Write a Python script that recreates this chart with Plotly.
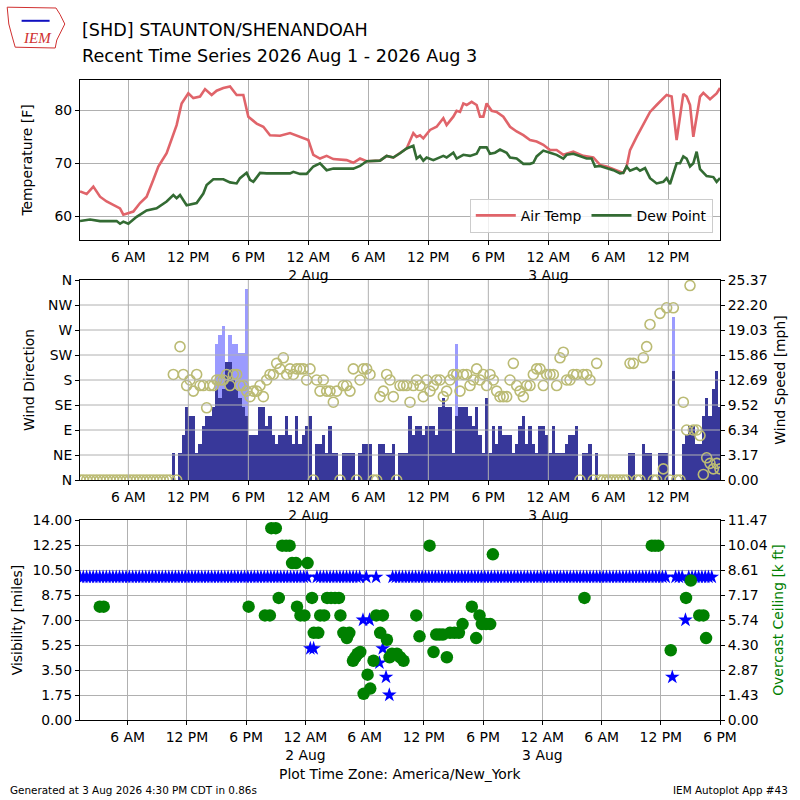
import pandas as pd
import plotly.graph_objects as go

# ---------------- DATA (local time America/New_York) ----------------
BASE = pd.Timestamp("2026-08-01 00:00")  # hours below are counted from here

temp_hours = [1.17, 1.83, 2.5, 3.17, 3.83, 4.5, 5.17, 5.5, 6.0, 6.5, 7.17, 7.83, 8.5, 9.0,
              9.83, 10.5, 10.83, 11.33, 12.0, 12.5, 13.17, 13.67, 14.33, 14.83, 15.5, 16.17,
              16.83, 17.5, 18.0, 18.83, 19.5, 20.17, 21.17, 22.17, 23.17, 24.0, 24.5, 25.17,
              25.83, 26.5, 27.83, 28.5, 29.17, 29.83, 31.17, 31.83, 32.5,
              33.17, 33.83, 34.5, 34.83, 35.17, 35.5, 36.17, 36.83, 37.5, 37.83, 38.5, 38.83,
              39.17, 39.5, 39.83, 40.33, 40.83, 41.17, 41.5, 41.83, 42.33, 42.83, 43.5, 44.17,
              44.83, 45.5, 46.17, 46.83, 47.5, 48.17, 48.83, 49.5, 50.5, 51.5, 52.5, 53.17,
              53.83, 54.83, 55.5, 55.83, 56.17, 56.83, 57.5, 58.17, 58.83, 59.83, 60.33, 60.83,
              61.5, 61.83, 62.17, 62.5, 63.17, 63.5, 64.17, 64.83, 65.17]
temp_f = [64.7, 64.2, 65.6, 63.7, 62.8, 62.1, 61.5, 60.3, 60.6, 60.9, 62.5, 63.7, 66.9, 69.4,
          71.9, 75.7, 77.2, 81.3, 83.2, 82.3, 82.6, 84.0, 82.9, 83.7, 84.2, 84.5,
          82.9, 82.9, 78.8, 77.5, 76.9, 75.3, 75.2, 75.7, 75.0, 74.4, 71.6, 70.9,
          71.4, 70.8, 70.6, 70.1, 70.9, 70.4, 70.5, 71.4, 71.1,
          71.9, 72.8, 75.7, 75.0, 75.3, 74.7, 76.3, 76.9, 78.5, 77.2, 78.8, 79.9,
          79.7, 81.3, 81.0, 81.6, 81.0, 78.8, 78.8, 81.3, 79.9, 79.7, 78.8, 76.9,
          76.0, 75.3, 74.4, 74.1, 73.5, 72.5, 72.5, 71.6, 72.2, 71.4, 71.1, 69.7,
          69.4, 68.7, 68.2, 69.4, 72.5, 75.0, 77.5, 79.7, 81.0, 82.9, 82.6, 74.4,
          83.1, 82.6, 81.0, 75.0, 82.6, 83.3, 82.1, 83.2, 84.2]

dew_hours = [1.17, 2.17, 3.17, 4.83, 5.17, 5.5, 6.0, 6.83, 7.83, 8.83, 9.83, 10.5, 10.83,
             11.17, 11.83, 12.83, 13.5, 13.83, 14.5, 15.5, 16.17, 16.83, 17.17, 17.83, 18.17,
             18.5, 19.17, 19.83, 22.17, 22.5, 23.17, 23.83, 24.5, 25.17, 25.83, 26.5, 28.5,
             29.17, 29.83, 31.17, 31.83, 32.5,
             33.17, 33.83, 34.5, 34.83, 35.17, 35.5, 35.83, 36.5, 37.5, 37.83, 38.5, 38.83,
             39.5, 40.17, 40.83, 41.17, 41.83, 42.17, 42.67, 43.17, 43.83, 44.17, 44.83, 45.5,
             46.17, 46.5, 46.83, 47.5, 48.17, 48.83, 49.5, 49.83, 50.5, 51.17, 51.83, 52.33,
             52.67, 53.17, 53.83, 54.5, 55.17, 55.5, 55.83, 56.17, 56.83, 57.17, 57.67, 58.17,
             58.83, 59.5, 59.83, 60.17, 60.83, 61.17, 61.5, 61.83, 62.17, 62.5, 62.83, 63.17,
             63.83, 64.5, 64.83, 65.17]
dew_f = [59.1, 59.4, 59.1, 59.1, 58.6, 59.0, 58.6, 59.9, 61.1, 61.5, 62.8, 64.0, 63.4,
         64.0, 62.1, 62.5, 64.3, 65.9, 67.0, 67.0, 66.4, 66.2, 67.2, 68.2, 66.9,
         66.5, 68.2, 68.1, 68.1, 68.4, 68.0, 68.0, 69.4, 70.0, 68.7, 69.0, 69.0,
         69.5, 70.4, 70.5, 71.4, 71.1,
         71.9, 72.8, 73.3, 70.9, 71.4, 70.5, 71.1, 70.6, 71.4, 71.1, 72.0, 70.9,
         71.6, 71.4, 71.8, 73.0, 73.0, 71.8, 72.0, 72.6, 72.0, 71.1, 70.9, 69.9,
         69.9, 70.1, 71.3, 72.4, 72.0, 71.6, 70.9, 71.6, 71.8, 71.4, 70.9, 70.9,
         69.4, 69.5, 69.1, 68.7, 68.1, 68.2, 69.4, 68.6, 69.1, 68.6, 69.1, 67.2,
         66.2, 66.5, 67.2, 66.1, 70.0, 70.0, 71.3, 70.9, 69.4, 70.0, 72.2, 68.9,
         67.6, 67.4, 66.5, 67.2]

# 20-minute observations starting 2026-08-01 01:10
OBS_START = "2026-08-01 01:10"
wind_mph = [0, 0, 0, 0, 0, 0, 0, 0, 0, 0, 0, 0, 0, 0, 0, 0, 0, 0, 0, 0, 0, 0, 0, 0, 0, 0, 0, 0,
            3.45, 0, 3.45, 5.75, 9.21, 8.06, 8.06, 3.45, 4.60, 6.90, 8.06, 8.06, 9.21,
            11.51, 10.36, 11.51, 14.96, 14.96, 12.66, 11.51, 10.36, 9.21, 8.06,
            5.75, 5.75, 5.75, 9.21, 9.21, 6.90, 8.06, 5.75, 4.60, 5.75,
            5.75, 8.06, 5.75, 4.60, 8.06, 4.60, 5.75, 6.90, 8.06, 0,
            4.60, 4.60, 5.75, 3.45, 6.90, 3.45, 3.45, 0, 3.45, 3.45,
            3.45, 3.45, 0, 3.45, 4.60, 4.60, 4.60, 0, 0, 4.60,
            4.60, 3.45, 3.45, 4.60, 0, 3.45, 3.45, 3.45, 8.06, 5.75,
            6.90, 6.90, 5.75, 6.90, 6.90, 6.90, 5.75, 9.21, 10.36, 9.21,
            9.21, 3.45, 8.06, 9.21, 9.21, 9.21, 8.06, 6.90, 9.21, 5.75,
            3.45, 10.36, 3.45, 6.90, 4.60, 6.90, 5.75, 5.75, 5.75, 3.45,
            4.60, 6.90, 8.06, 4.60, 6.90, 4.60, 3.45, 6.90, 6.90, 5.75,
            3.45, 6.90, 3.45, 3.45, 3.45, 4.60, 5.75, 5.75, 6.90, 0,
            3.45, 3.45, 4.60, 0, 3.45, 0, 0, 0, 0, 0,
            0, 0, 0, 0, 3.45, 3.45, 0, 0, 4.60, 3.45,
            3.45, 0, 0, 3.45, 3.45, 3.45, 0, 13.81, 0, 0,
            4.60, 5.75, 6.90, 6.90, 4.60, 4.60, 8.06, 10.36, 8.06, 11.51, 13.81, 9.21]
wind_dir = [0, 0, 0, 0, 0, 0, 0, 0, 0, 0, 0, 0, 0, 0, 0, 0, 0, 0, 0, 0, 0, 0, 0, 0, 0, 0, 0, 0,
            190, 0, 240, 190, 170, 180, 160, 190, 170, 170, 130, 170, 170,
            180, 180, 180, 190, 170, 190, 190, 170, 170, 160,
            150, 160, 160, 170, 150, 180, 190, 190, 210, 200,
            220, 190, 200, 190, 200, 200, 200, 180, 200, 0,
            180, 160, 180, 160, 160, 140, 160, 0, 170, 170,
            160, 200, 0, 180, 200, 200, 190, 0, 0, 150,
            160, 190, 180, 150, 0, 170, 170, 170, 140, 170,
            180, 170, 150, 180, 160, 170, 180, 180, 150, 160,
            180, 190, 190, 160, 190, 190, 170, 180, 200, 180,
            190, 170, 190, 180, 160, 150, 150, 150, 180, 210,
            170, 160, 150, 170, 170, 190, 200, 200, 170, 190,
            190, 190, 170, 220, 230, 180, 180, 190, 190, 0,
            190, 190, 180, 0, 210, 0, 0, 0, 0, 0,
            0, 0, 0, 0, 210, 210, 0, 0, 220, 240,
            280, 0, 0, 300, 20, 310, 0, 310, 0, 0,
            140, 90, 350, 90, 90, 80, 10, 40, 30, 20, 30, 20]
vis_miles = [10, 10, 10, 10, 10, 10, 10, 10, 10, 10,
             10, 10, 10, 10, 10, 10, 10, 10, 10, 10,
             10, 10, 10, 10, 10, 10, 10, 10, 10, 10,
             10, 10, 10, 10, 10, 10, 10, 10, 10, 10,
             10, 10, 10, 10, 10, 10, 10, 10, 10, 10,
             10, 10, 10, 10, 10, 10, 10, 10, 10, 10,
             10, 10, 10, 10, 10, 10, 10, 10, 10, 10,
             5, 5, 10, 10, 10, 10, 10, 10, 10, 10,
             10, 10, 10, 10, 10, 10, 7, 10, 7, None,
             10, 4, 5, 3, 1.75, 10, 10, 10, 10, 10,
             10, 10, 10, 10, 10, 10, 10, 10, 10, 10,
             10, 10, 10, 10, 10, 10, 10, 10, 10, 10,
             10, 10, 10, 10, 10, 10, 10, 10, 10, 10,
             10, 10, 10, 10, 10, 10, 10, 10, 10, 10,
             10, 10, 10, 10, 10, 10, 10, 10, 10, 10,
             10, 10, 10, 10, 10, 10, 10, 10, 10, 10,
             10, 10, 10, 10, 10, 10, 10, 10, 10, 10,
             10, 10, 10, 10, 10, 10, 10, 10, 10, None,
             3, 10, 10, 10, 7, 10, 10, 10, 10, 10,
             10, 10, 10]

gust_times = ["2026-08-01 14:50", "2026-08-01 15:10", "2026-08-01 15:30", "2026-08-01 16:10",
              "2026-08-01 16:30", "2026-08-01 16:50", "2026-08-01 17:10", "2026-08-01 17:30",
              "2026-08-01 17:50", "2026-08-02 14:50", "2026-08-03 12:30"]
gust_mph = [17.26, 18.41, 19.56, 18.41, 17.26, 17.26, 16.11, 16.11, 24.17, 17.26, 20.71]

ceil_hours = [3.17, 3.57, 18.25, 19.9, 20.4, 20.55, 21.0, 21.3, 21.65, 22.05, 22.4, 22.65,
              23.05, 23.15, 23.5, 23.9, 24.22, 24.67, 24.85, 25.3, 25.5, 25.9, 26.2, 26.6,
              27.0, 27.4, 27.55, 27.85, 28.2, 28.45, 28.82, 29.05, 29.29, 29.56, 29.9, 30.3,
              30.57, 30.9, 31.18, 31.58, 31.85, 32.26, 32.53, 32.77, 33.27, 33.6, 33.94,
              35.23, 35.56, 36.58, 36.98, 37.25, 37.59, 37.93, 38.33, 38.65, 39.1, 39.55,
              39.92, 40.86, 41.3, 41.64, 41.87, 42.3, 42.72, 42.99, 52.27, 59.09, 59.42,
              59.76, 61.01, 62.56, 63.04, 63.9, 64.32, 64.59]
ceil_kft = [6.5, 6.5, 6.5, 6.0, 6.0, 11.0, 11.0, 7.0, 10.0, 10.0, 10.0, 9.0,
            9.0, 6.5, 6.0, 6.0, 9.0, 7.0, 5.0, 5.0, 6.0, 6.0, 7.0, 7.0,
            7.0, 7.0, 6.0, 5.0, 4.7, 5.0, 3.4, 3.6, 3.8, 3.9, 1.5, 2.6,
            1.8, 3.4, 6.0, 5.0, 6.0, 4.6, 3.6, 3.8, 3.8, 3.6, 3.4,
            6.0, 4.8, 10.0, 3.9, 4.9, 4.9, 4.9, 3.6, 5.0, 5.0, 5.0,
            5.5, 6.5, 4.7, 6.0, 5.5, 5.5, 5.5, 9.5, 7.0, 10.0, 10.0,
            10.0, 4.0, 7.0, 8.0, 6.0, 6.0, 4.7]

# axis ticks / labels
xtick_vals = ["2026-08-01 06:00", "2026-08-01 12:00", "2026-08-01 18:00", "2026-08-02 00:00",
              "2026-08-02 06:00", "2026-08-02 12:00", "2026-08-02 18:00", "2026-08-03 00:00",
              "2026-08-03 06:00", "2026-08-03 12:00", "2026-08-03 18:00"]
xtick_text = ["6 AM", "12 PM", "6 PM", "12 AM<br>2 Aug", "6 AM", "12 PM", "6 PM",
              "12 AM<br>3 Aug", "6 AM", "12 PM", "6 PM"]
dir_ticks = [0, 45, 90, 135, 180, 225, 270, 315, 360]
dir_labels = ["N", "NE", "E", "SE", "S", "SW", "W", "NW", "N"]
speed_max = 25.37
speed_labels = ["0.00", "3.17", "6.34", "9.52", "12.69", "15.86", "19.03", "22.20", "25.37"]
vis_ticks = [0, 1.75, 3.5, 5.25, 7.0, 8.75, 10.5, 12.25, 14.0]
vis_labels = ["0.00", "1.75", "3.50", "5.25", "7.00", "8.75", "10.50", "12.25", "14.00"]
ceil_max = 11.47
ceil_labels = ["0.00", "1.43", "2.87", "4.30", "5.74", "7.17", "8.61", "10.04", "11.47"]

# ---------------- BUILD ----------------
assert len(wind_mph) == len(wind_dir) == len(vis_miles) == 193
obs_t = pd.date_range(OBS_START, periods=len(wind_mph), freq="20min")
temp_t = BASE + pd.to_timedelta(temp_hours, unit="h")
dew_t = BASE + pd.to_timedelta(dew_hours, unit="h")
ceil_t = BASE + pd.to_timedelta(ceil_hours, unit="h")
speed_ticks = [speed_max * i / 8 for i in range(9)]
ceil_ticks = [ceil_max * i / 8 for i in range(9)]

FONT = "DejaVu Sans"
FS = 13.9
GRID = "#b0b0b0"
BAR_W = 20 * 60 * 1000

fig = go.Figure()
fig.add_trace(go.Scatter(x=temp_t, y=temp_f, mode="lines", name="Air Temp",
                         line=dict(color="#E0646A", width=2.6), xaxis="x", yaxis="y"))
fig.add_trace(go.Scatter(x=dew_t, y=dew_f, mode="lines", name="Dew Point",
                         line=dict(color="#336B33", width=2.6), xaxis="x", yaxis="y"))

fig.add_trace(go.Bar(x=pd.to_datetime(gust_times), y=gust_mph, width=BAR_W, showlegend=False,
                     marker=dict(color="#9B9BFF", line=dict(width=0)), xaxis="x2", yaxis="y2"))
fig.add_trace(go.Bar(x=obs_t, y=wind_mph, width=BAR_W, showlegend=False,
                     marker=dict(color="#38389A", line=dict(width=0)), xaxis="x2", yaxis="y2"))
fig.add_trace(go.Scatter(x=obs_t, y=wind_dir, mode="markers", showlegend=False,
                         marker=dict(symbol="circle-open", size=10, color="#BBBB74",
                                     line=dict(width=1.6, color="#BBBB74")),
                         xaxis="x2", yaxis="y3"))

fig.add_trace(go.Scatter(x=obs_t, y=vis_miles, mode="markers", showlegend=False,
                         marker=dict(symbol="star", size=11, color="#0000FF", line=dict(width=0)),
                         xaxis="x3", yaxis="y4"))
fig.add_trace(go.Scatter(x=ceil_t, y=ceil_kft, mode="markers", showlegend=False,
                         marker=dict(symbol="circle", size=12.5, color="#008000", line=dict(width=0)),
                         xaxis="x3", yaxis="y5"))

tickfont = dict(family=FONT, size=FS, color="black")
common_x = dict(type="date", tickmode="array", tickvals=xtick_vals, ticktext=xtick_text,
                tickfont=tickfont, ticks="outside", ticklen=4, tickwidth=1, tickcolor="black",
                showline=True, linecolor="black", linewidth=1, mirror=True, zeroline=False,
                automargin=False, tickangle=0)
common_y = dict(tickfont=tickfont, ticks="outside", ticklen=4, tickwidth=1, tickcolor="black",
                zeroline=False, automargin=False)
title_font = dict(family=FONT, size=FS, color="black")

x_top = ["2026-08-01 01:10", "2026-08-03 17:10"]
x_bot = ["2026-08-01 01:10", "2026-08-03 18:00"]

fig.update_layout(
    width=800, height=800, margin=dict(l=0, r=0, t=0, b=0), autosize=False,
    paper_bgcolor="white", plot_bgcolor="white", barmode="overlay", bargap=0,
    font=dict(family=FONT, size=FS, color="black"),
    xaxis=dict(common_x, domain=[0.1, 0.9], anchor="y", range=x_top,
               showgrid=True, gridcolor=GRID, gridwidth=1),
    yaxis=dict(common_y, domain=[0.7, 0.9], anchor="x", range=[55.53, 85.72],
               tickvals=[60, 70, 80], showgrid=True, gridcolor=GRID, gridwidth=1,
               showline=True, linecolor="black", linewidth=1, mirror=True,
               title=dict(text="Temperature [F]", font=title_font, standoff=18)),
    xaxis2=dict(common_x, domain=[0.1, 0.9], anchor="y2", range=x_top, showgrid=False),
    yaxis2=dict(common_y, domain=[0.4, 0.65], anchor="x2", side="right", range=[0, speed_max],
                tickmode="array", tickvals=speed_ticks, ticktext=speed_labels, showgrid=False,
                showline=True, linecolor="black", linewidth=1, mirror=True,
                title=dict(text="Wind Speed [mph]", font=title_font, standoff=8)),
    yaxis3=dict(common_y, overlaying="y2", anchor="x2", side="left", range=[0, 360],
                tickmode="array", tickvals=dir_ticks, ticktext=dir_labels, showgrid=False,
                showline=False,
                title=dict(text="Wind Direction", font=title_font, standoff=10)),
    xaxis3=dict(common_x, domain=[0.1, 0.9], anchor="y4", range=x_bot,
                showgrid=True, gridcolor=GRID, gridwidth=1),
    yaxis4=dict(common_y, domain=[0.1, 0.35], anchor="x3", range=[0, 14],
                tickmode="array", tickvals=vis_ticks, ticktext=vis_labels,
                showgrid=True, gridcolor=GRID, gridwidth=1,
                showline=True, linecolor="black", linewidth=1, mirror=True,
                title=dict(text="Visibility [miles]", font=title_font, standoff=6)),
    yaxis5=dict(common_y, overlaying="y4", anchor="x3", side="right", range=[0, ceil_max],
                tickmode="array", tickvals=ceil_ticks, ticktext=ceil_labels, showgrid=False,
                showline=False,
                title=dict(text="Overcast Ceiling [k ft]", font=dict(family=FONT, size=FS, color="#008000"),
                           standoff=6)),
    legend=dict(orientation="h", x=0.891, xanchor="right", y=0.709, yanchor="bottom",
                bgcolor="rgba(255,255,255,0.8)", bordercolor="#cccccc", borderwidth=1,
                font=dict(family=FONT, size=FS, color="black"), itemwidth=40),
)

# grid lines of the wind panel are drawn above the bars
shapes = []
for tv in xtick_vals[:-1]:
    shapes.append(dict(type="line", xref="x2", yref="y2 domain", x0=tv, x1=tv, y0=0, y1=1,
                       line=dict(color=GRID, width=1), layer="above"))
for dv in dir_ticks[1:-1]:
    shapes.append(dict(type="line", xref="x2 domain", yref="y3", x0=0, x1=1, y0=dv, y1=dv,
                       line=dict(color=GRID, width=1), layer="above"))
# simple IEM logo outline
shapes.append(dict(type="path", xref="paper", yref="paper",
                   path="M 0.009,0.991 L 0.07,0.99 L 0.075,0.982 L 0.081,0.97 L 0.076,0.96 "
                        "L 0.071,0.95 L 0.069,0.94 L 0.019,0.941 L 0.015,0.955 L 0.011,0.97 Z",
                   line=dict(color="#d03030", width=1), fillcolor="rgba(0,0,0,0)"))
shapes.append(dict(type="line", xref="paper", yref="paper", x0=0.027, x1=0.062, y0=0.974, y1=0.974,
                   line=dict(color="#1010c0", width=2)))
fig.update_layout(shapes=shapes)

annotations = [
    dict(text="[SHD] STAUNTON/SHENANDOAH", x=0.1, y=1 - 30 / 800, xref="paper", yref="paper",
         xanchor="left", yanchor="middle", showarrow=False,
         font=dict(family=FONT, size=17.6, color="black")),
    dict(text="Recent Time Series 2026 Aug 1 - 2026 Aug 3", x=0.1, y=1 - 56.5 / 800,
         xref="paper", yref="paper", xanchor="left", yanchor="middle", showarrow=False,
         font=dict(family=FONT, size=17.6, color="black")),
    dict(text="<i>IEM</i>", x=37 / 800, y=1 - 38 / 800, xref="paper", yref="paper",
         xanchor="center", yanchor="middle", showarrow=False,
         font=dict(family="Liberation Serif", size=15, color="#d03030")),
    dict(text="Plot Time Zone: America/New_York", x=0.5, y=1 - 774 / 800, xref="paper",
         yref="paper", xanchor="center", yanchor="middle", showarrow=False,
         font=dict(family=FONT, size=FS, color="black")),
    dict(text="Generated at 3 Aug 2026 4:30 PM CDT in 0.86s", x=8 / 800, y=1 - 790 / 800,
         xref="paper", yref="paper", xanchor="left", yanchor="middle", showarrow=False,
         font=dict(family=FONT, size=10.4, color="black")),
    dict(text="IEM Autoplot App #43", x=790 / 800, y=1 - 790 / 800, xref="paper",
         yref="paper", xanchor="right", yanchor="middle", showarrow=False,
         font=dict(family=FONT, size=10.4, color="black")),
]
fig.update_layout(annotations=annotations)

fig.write_html("out.html", config={"displayModeBar": False},
               post_script="document.body.style.margin='0';document.body.style.overflow='hidden';")
